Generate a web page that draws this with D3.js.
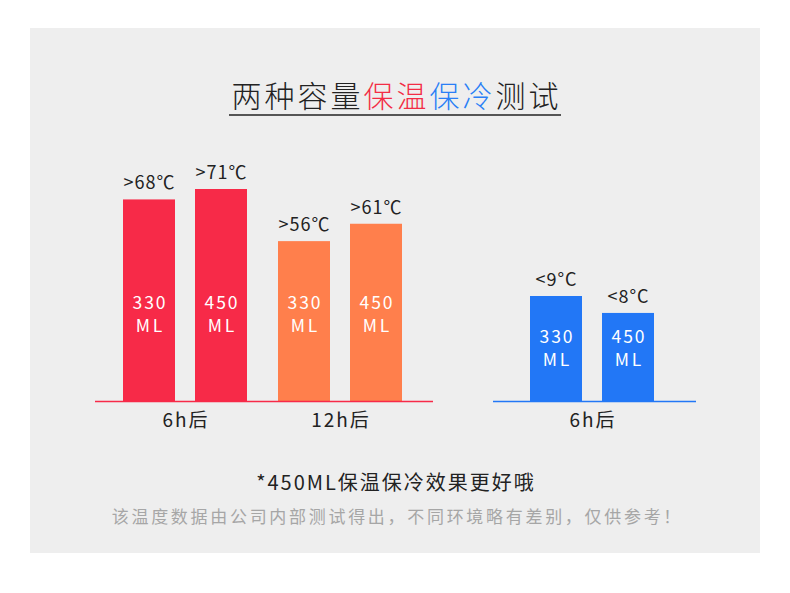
<!DOCTYPE html>
<html><head><meta charset="utf-8">
<script src="https://cdn.jsdelivr.net/npm/d3@7"></script>
<style>
html,body{margin:0;padding:0;background:#fff;}
svg text{font-family:"Noto Sans CJK SC","Noto Sans",sans-serif;}
</style></head>
<body>
<svg id="c" width="790" height="593"></svg>
<script>
// ---- data ----
const hotGroups = ["6h后", "12h后"];
const hotSizes = ["330", "450"];
const hotValues = [[68, 71], [56, 61]];
const hotLabels = [[">68℃", ">71℃"], [">56℃", ">61℃"]];
const hotColors = ["#f72a48", "#ff7f4c"];
const coldGroups = ["6h后"];
const coldSizes = ["330", "450"];
const coldValues = [9, 8];
const coldLabels = ["<9°C", "<8°C"];
const coldColor = "#2277f6";
const titleParts = [["两种容量", "#222"], ["保温", "#f32d45"], ["保冷", "#2a7ff6"], ["测试", "#222"]];
const note1 = "*450ML保温保冷效果更好哦";
const note2 = "该温度数据由公司内部测试得出，不同环境略有差别，仅供参考！";

const svg = d3.select("#c");
svg.append("rect").attr("x", 30).attr("y", 28).attr("width", 730).attr("height", 525).attr("fill", "#eeeeee");

// title
const t = svg.append("text").attr("x", 395 + 1.5).attr("y", 107).attr("text-anchor", "middle")
  .attr("font-size", 30).attr("letter-spacing", 3).attr("font-weight", 300);
titleParts.forEach(p => t.append("tspan").attr("fill", p[1]).text(p[0]));
svg.append("line").attr("x1", 229).attr("x2", 561).attr("y1", 115).attr("y2", 115)
  .attr("stroke", "#222").attr("stroke-width", 1.3);

const base = 401;
const barW = 52;

// hot chart
const yHot = d3.scaleLinear().domain([10, 71]).range([base, base - 212]);
const hotX = d3.scaleOrdinal().domain(["6h后|330", "6h后|450", "12h后|330", "12h后|450"]).range([123, 195, 278, 350]);

hotGroups.forEach((g, gi) => {
  hotSizes.forEach((s, si) => {
    const v = hotValues[gi][si];
    const bx = hotX(g + "|" + s);
    svg.append("rect").attr("x", bx).attr("y", yHot(v)).attr("width", barW)
      .attr("height", base - yHot(v)).attr("fill", hotColors[gi]);
    svg.append("text").attr("x", bx + barW / 2 + 0.5).attr("y", yHot(v) - 10).attr("text-anchor", "middle")
      .attr("font-size", 18).attr("letter-spacing", 1).attr("fill", "#222").text(hotLabels[gi][si]);
    svg.append("text").attr("x", bx + barW / 2 + 1).attr("y", 309).attr("text-anchor", "middle")
      .attr("font-size", 17.5).attr("letter-spacing", 2).attr("fill", "#fff").text(s);
    svg.append("text").attr("x", bx + barW / 2 + 1.5).attr("y", 332).attr("text-anchor", "middle")
      .attr("font-size", 17.5).attr("letter-spacing", 3).attr("fill", "#fff").text("ML");
  });
  const cx = (hotX(g + "|330") + hotX(g + "|450") + barW) / 2;
  svg.append("text").attr("x", cx + 1).attr("y", 427).attr("text-anchor", "middle")
    .attr("font-size", 19).attr("letter-spacing", 2).attr("fill", "#222").text(g);
});
svg.append("line").attr("x1", 95).attr("x2", 433).attr("y1", base + 0.5).attr("y2", base + 0.5)
  .attr("stroke", "#f72a48").attr("stroke-width", 1.4);

// cold chart
const yCold = d3.scaleLinear().domain([2.8, 9]).range([base, base - 105]);
const coldX = d3.scaleOrdinal().domain(coldSizes).range([530, 602]);
coldSizes.forEach((s, si) => {
  const v = coldValues[si];
  const bx = coldX(s);
  svg.append("rect").attr("x", bx).attr("y", yCold(v)).attr("width", barW)
    .attr("height", base - yCold(v)).attr("fill", coldColor);
  svg.append("text").attr("x", bx + barW / 2 + 0.5).attr("y", yCold(v) - 10).attr("text-anchor", "middle")
    .attr("font-size", 18).attr("letter-spacing", 1).attr("fill", "#222").text(coldLabels[si]);
  svg.append("text").attr("x", bx + barW / 2 + 1).attr("y", 343).attr("text-anchor", "middle")
    .attr("font-size", 17.5).attr("letter-spacing", 2).attr("fill", "#fff").text(s);
  svg.append("text").attr("x", bx + barW / 2 + 1.5).attr("y", 366).attr("text-anchor", "middle")
    .attr("font-size", 17.5).attr("letter-spacing", 3).attr("fill", "#fff").text("ML");
});
svg.append("text").attr("x", (530 + 654) / 2 + 1).attr("y", 427).attr("text-anchor", "middle")
  .attr("font-size", 19).attr("letter-spacing", 2).attr("fill", "#222").text(coldGroups[0]);
svg.append("line").attr("x1", 493).attr("x2", 696).attr("y1", base + 0.5).attr("y2", base + 0.5)
  .attr("stroke", coldColor).attr("stroke-width", 1.4);

// notes
svg.append("text").attr("x", 395 + 1).attr("y", 490).attr("text-anchor", "middle")
  .attr("font-size", 20).attr("letter-spacing", 2).attr("fill", "#222").text(note1);
svg.append("text").attr("x", 396 + 1.4).attr("y", 523).attr("text-anchor", "middle")
  .attr("font-size", 17).attr("letter-spacing", 2.7).attr("fill", "#a6a6a6").text(note2);
</script>
</body></html>
